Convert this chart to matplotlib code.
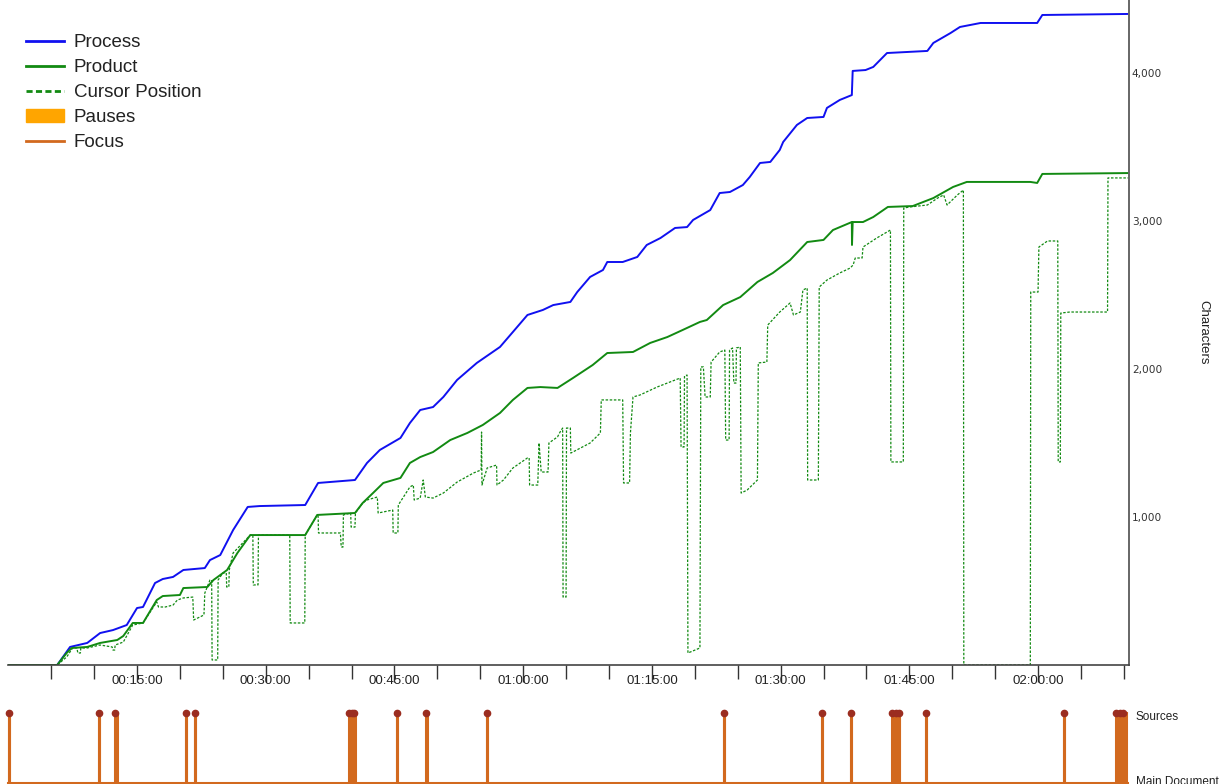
import matplotlib
matplotlib.use('Agg')
import matplotlib.pyplot as plt
from matplotlib.patches import Patch
from matplotlib.lines import Line2D
from matplotlib.ticker import FixedLocator, FuncFormatter

# time in minutes, values in characters
process_t = [0, 5.7, 7.2, 9.2, 10.7, 12.2, 13.8, 15.0, 15.7, 17.1, 18.0, 19.2, 20.4, 22.9, 23.5,
             24.7, 26.2, 27.9, 29.3, 34.6, 36.1, 40.4, 41.8, 43.3, 45.7, 46.8, 48.0, 49.5, 50.7,
             52.3, 54.6, 57.3, 58.8, 60.5, 62.3, 63.5, 65.5, 66.3, 67.8, 69.3, 69.8, 71.6, 73.3,
             74.4, 76.0, 77.7, 79.1, 79.8, 81.8, 82.9, 84.1, 85.6, 86.4, 87.6, 88.8, 89.9, 90.3,
             91.9, 93.1, 95.0, 95.4, 96.9, 98.3, 98.4, 99.9, 100.8, 102.4, 107.1, 107.8, 109.8,
             110.9, 113.3, 119.9, 120.5, 130.6]
process_c = [0, 0, 122, 149, 216, 236, 270, 385, 392, 554, 581, 595, 642, 655, 709, 743, 912,
             1068, 1074, 1081, 1230, 1250, 1365, 1453, 1534, 1635, 1723, 1743, 1811, 1926, 2041,
             2149, 2250, 2365, 2399, 2432, 2453, 2520, 2622, 2669, 2723, 2723, 2757, 2838, 2885,
             2953, 2959, 3007, 3074, 3189, 3196, 3243, 3297, 3392, 3399, 3480, 3534, 3649, 3696,
             3703, 3764, 3818, 3851, 4014, 4020, 4041, 4135, 4149, 4203, 4270, 4311, 4338, 4338,
             4392, 4399]

product_t = [0, 5.7, 6.8, 7.4, 9.2, 10.7, 12.7, 13.4, 14.5, 15.7, 17.3, 18.0, 20.0, 20.4, 23.2,
             23.9, 25.5, 26.7, 28.2, 34.6, 36.0, 40.4, 41.3, 42.5, 43.7, 45.7, 46.8, 48.0, 49.5,
             51.5, 53.5, 55.3, 57.3, 58.8, 60.5, 62.0, 64.0, 65.8, 68.1, 69.8, 72.8, 74.8, 76.8,
             78.6, 80.6, 81.4, 83.3, 85.3, 87.3, 89.1, 91.1, 93.1, 95.0, 96.1, 98.3, 98.32, 98.4,
             99.6, 100.8, 102.5, 105.4, 107.8, 110.1, 111.7, 119.1, 119.9, 120.5, 130.6]
product_c = [0, 0, 81, 115, 122, 149, 169, 196, 284, 284, 439, 466, 473, 520, 527, 574, 642, 757,
             878, 878, 1014, 1027, 1095, 1162, 1230, 1264, 1365, 1405, 1439, 1520, 1568, 1622,
             1703, 1791, 1872, 1878, 1872, 1939, 2027, 2108, 2115, 2176, 2216, 2264, 2318, 2331,
             2432, 2486, 2588, 2649, 2736, 2858, 2872, 2939, 2993, 2838, 2993, 2993, 3027, 3095,
             3101, 3155, 3230, 3264, 3264, 3257, 3318, 3324]

cursor_t = [0, 5.7, 6.8, 7.5, 8.0, 8.1, 8.4, 8.45, 9.2, 10.7, 12.1, 12.2, 12.4, 12.45, 13.4, 14.5,
            15.7, 17.3, 17.5, 18.3, 19.2, 19.7, 20.4, 21.5, 21.6, 22.3, 22.8, 22.9, 23.5, 23.7,
            23.75, 24.4, 24.45, 25.0, 25.4, 25.45, 25.7, 25.75, 26.2, 28.2, 28.5, 28.55, 29.1,
            29.15, 32.8, 32.85, 34.55, 34.6, 36.0, 36.1, 36.15, 38.7, 38.8, 39.0, 39.05, 39.9,
            39.95, 40.4, 40.45, 41.3, 41.8, 43.0, 43.1, 44.8, 44.85, 45.4, 45.45, 46.8, 47.2,
            47.3, 48.0, 48.35, 48.6, 49.5, 50.7, 52.3, 54.2, 55.1, 55.15, 55.2, 55.8, 56.9, 56.95,
            57.7, 58.8, 60.5, 60.7, 60.75, 61.7, 61.85, 62.1, 62.9, 63.0, 64.0, 64.3, 64.6, 64.65,
            65.0, 65.05, 65.5, 65.55, 67.8, 69.0, 69.1, 71.6, 71.7, 72.4, 72.5, 72.8, 73.6, 75.6,
            76.8, 78.3, 78.4, 78.75, 78.8, 79.1, 79.2, 80.6, 80.7, 81.0, 81.2, 81.8, 81.9, 82.9,
            83.5, 83.6, 84.0, 84.05, 84.4, 84.55, 84.8, 84.85, 85.3, 85.4, 86.1, 87.3, 87.4, 88.4,
            88.5, 89.9, 91.1, 91.5, 92.3, 92.6, 93.1, 93.15, 94.4, 94.5, 95.4, 96.9, 98.1, 98.45,
            98.7, 99.5, 99.6, 101.2, 102.8, 102.85, 104.3, 104.35, 105.1, 107.1, 108.3, 109.0,
            109.4, 110.6, 111.3, 111.35, 119.1, 119.15, 120.0, 120.1, 121.1, 122.3, 122.35, 122.6,
            122.65, 123.7, 128.1, 128.15, 130.6]
cursor_c = [0, 0, 54, 115, 115, 81, 81, 115, 115, 135, 122, 101, 101, 135, 155, 270, 284, 426,
            392, 392, 405, 439, 453, 459, 304, 324, 338, 486, 574, 574, 34, 34, 574, 622, 622, 527,
            527, 642, 757, 878, 878, 541, 541, 878, 878, 284, 284, 878, 1014, 1014, 892, 892, 797,
            797, 1014, 1027, 932, 932, 1027, 1095, 1115, 1135, 1027, 1047, 892, 892, 1081, 1203,
            1216, 1115, 1128, 1250, 1135, 1128, 1162, 1236, 1297, 1318, 1574, 1216, 1331, 1351,
            1216, 1250, 1331, 1399, 1399, 1216, 1216, 1500, 1304, 1304, 1500, 1541, 1574, 1601,
            459, 459, 1601, 1601, 1432, 1500, 1568, 1791, 1791, 1230, 1230, 1568, 1811, 1824, 1878,
            1905, 1939, 1473, 1473, 1953, 1959, 81, 115, 2014, 2014, 1811, 1811, 2047, 2115, 2128,
            1520, 1520, 2128, 2142, 1905, 1905, 2142, 2149, 1162, 1182, 1250, 2041, 2047, 2297,
            2385, 2446, 2365, 2385, 2534, 2547, 1250, 1250, 2554, 2601, 2649, 2682, 2703, 2750,
            2750, 2824, 2885, 2939, 1372, 1372, 3088, 3095, 3108, 3155, 3176, 3108, 3176, 3209, 0,
            0, 2520, 2520, 2824, 2865, 2865, 1372, 1372, 2378, 2385, 2385, 3291, 3291]

# focus switches to the sources window (start / end, minutes)
focus_in = [0.08, 10.57, 12.45, 20.7, 21.76, 39.75, 40.0, 40.3, 45.3, 48.7, 55.8, 83.4, 94.8,
            98.2, 103.0, 103.4, 103.8, 106.96, 123.0, 129.1, 129.5, 129.9]
focus_out = [0.12, 10.6, 12.65, 20.73, 21.79, 39.9, 40.15, 40.35, 45.33, 48.75, 55.83, 83.45,
             94.83, 98.25, 103.1, 103.45, 103.85, 107.0, 123.03, 129.3, 129.7, 130.3]
focus_levels = ['Main Document', 'Sources']
major_ticks = [15, 30, 45, 60, 75, 90, 105, 120]
minor_ticks = [5, 10, 20, 25, 35, 40, 50, 55, 65, 70, 80, 85, 95, 100, 110, 115, 125, 130]
y_ticks = [1000, 2000, 3000, 4000]

BLUE = '#1010f0'
GREEN = '#128a12'
FOCUS = '#d2691e'


def hms(v, pos=None):
    m = int(round(v))
    return '%02d:%02d:00' % (m // 60, m % 60)


def main():
    fig = plt.figure(figsize=(12.29, 7.84), dpi=100)
    W, H = 1229.0, 784.0
    x0, x1 = 8.3 / W, 1129 / W
    ax = fig.add_axes([x0, 1 - 665 / H, x1 - x0, 665 / H])

    ax.plot(process_t, process_c, color=BLUE, lw=1.4)
    ax.plot(product_t, product_c, color=GREEN, lw=1.4)
    ax.plot(cursor_t, cursor_c, color=GREEN, lw=0.9, ls=(0, (2, 1.3)))

    ax.set_xlim(0, 130.6)
    ax.set_ylim(0, 665 / 0.148)
    for s in ['top', 'left']:
        ax.spines[s].set_visible(False)
    ax.spines['right'].set_color('#666666')
    ax.spines['right'].set_linewidth(1.4)
    ax.spines['bottom'].set_color('#444444')
    ax.spines['bottom'].set_linewidth(1.2)

    ax.xaxis.set_major_locator(FixedLocator(major_ticks))
    ax.xaxis.set_minor_locator(FixedLocator(minor_ticks))
    ax.xaxis.set_major_formatter(FuncFormatter(hms))
    ax.tick_params(axis='x', which='major', direction='out', length=12, width=1,
                   color='#333333', labelsize=9.5, pad=-5)
    ax.tick_params(axis='x', which='minor', direction='out', length=10, width=1, color='#333333')
    for lab in ax.get_xticklabels():
        lab.set_family('Liberation Sans')
        lab.set_color('#222222')

    ax.yaxis.tick_right()
    ax.set_yticks(y_ticks)
    ax.set_yticklabels(['{:,}'.format(v) for v in y_ticks])
    ax.tick_params(axis='y', length=0, pad=2, labelsize=7.6, labelcolor='#333333')
    ax.yaxis.set_label_position('right')
    ax.set_ylabel('Characters', rotation=270, fontsize=9.5, family='Liberation Sans',
                  color='#222222', labelpad=34)

    handles = [Line2D([], [], color=BLUE, lw=2),
               Line2D([], [], color=GREEN, lw=2),
               Line2D([], [], color=GREEN, lw=2, ls=(0, (2.2, 1.2))),
               Patch(facecolor='orange', edgecolor='orange'),
               Line2D([], [], color=FOCUS, lw=2)]
    labels = ['Process', 'Product', 'Cursor Position', 'Pauses', 'Focus']
    leg = ax.legend(handles, labels, loc='upper left', bbox_to_anchor=(26 / W, 1 - 34 / H),
                    bbox_transform=fig.transFigure, frameon=False, borderpad=0,
                    borderaxespad=0, handlelength=2.03, handletextpad=0.53, labelspacing=0.42,
                    prop={'family': 'Liberation Sans', 'size': 13.5})
    for t in leg.get_texts():
        t.set_color('#222222')

    # focus panel
    ax2 = fig.add_axes([x0, 1 / H, x1 - x0, 70 / H])
    ft, fl = [0], [0]
    for a, b in zip(focus_in, focus_out):
        ft += [a, a, b, b]
        fl += [0, 1, 1, 0]
    ft.append(130.4)
    fl.append(0)
    ax2.plot(ft, fl, color=FOCUS, lw=2.2, clip_on=False, solid_joinstyle='miter')
    ax2.plot(focus_in, [1] * len(focus_in), 'o', color='#9b2d20', ms=4.5, clip_on=False)
    ax2.set_xlim(0, 130.6)
    ax2.set_ylim(0, 1)
    ax2.axis('off')
    for lvl, name in enumerate(focus_levels):
        yy = lvl - 0.06 if lvl else lvl + 0.02
        ax2.text(1.006, yy, name, transform=ax2.get_yaxis_transform(), va='center',
                 ha='left', fontsize=8.5, family='Liberation Sans', color='#222222')

    fig.savefig('out.png', dpi=100)


if __name__ == '__main__':
    main()
